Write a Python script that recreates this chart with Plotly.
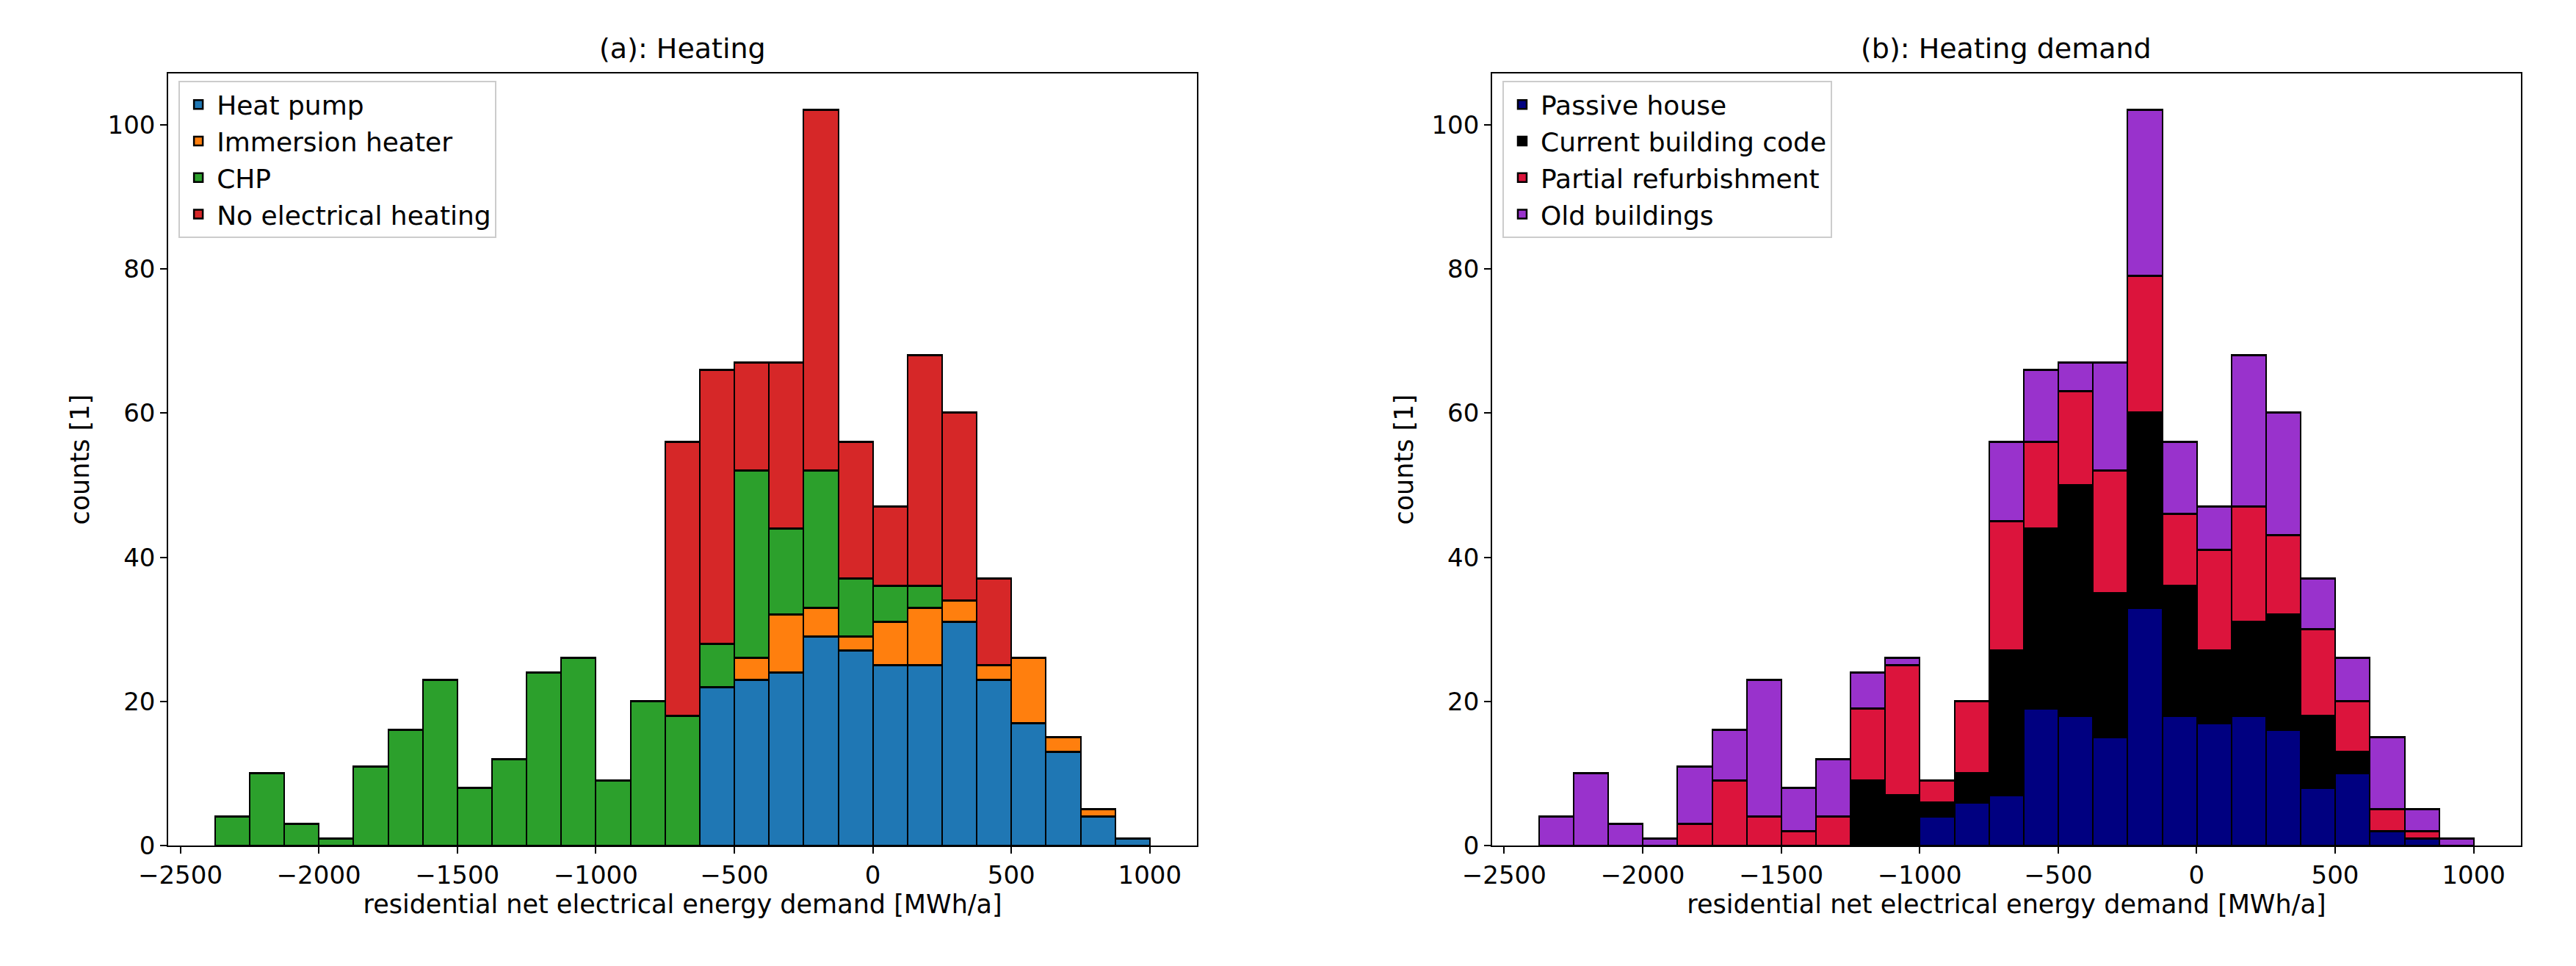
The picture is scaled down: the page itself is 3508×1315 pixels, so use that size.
import plotly.graph_objects as go

bin_start = -2374
bin_width = 125
n_bins = 27

# (a) Heating: counts per bin
heat_pump = [0,0,0,0,0,0,0,0,0,0,0,0,0,0,22,23,24,29,27,25,25,31,23,17,13,4,1]
immersion = [0,0,0,0,0,0,0,0,0,0,0,0,0,0,0,3,8,4,2,6,8,3,2,9,2,1,0]
chp = [4,10,3,1,11,16,23,8,12,24,26,9,20,18,6,26,12,19,8,5,3,0,0,0,0,0,0]
no_elec = [0,0,0,0,0,0,0,0,0,0,0,0,0,38,38,15,23,50,19,11,32,26,12,0,0,0,0]

# (b) Heating demand
passive = [0,0,0,0,0,0,0,0,0,0,0,4,6,7,19,18,15,33,18,17,18,16,8,10,2,1,0]
current = [0,0,0,0,0,0,0,0,0,9,7,2,4,20,25,32,20,27,18,10,13,16,10,3,0,0,0]
partial = [0,0,0,0,3,9,4,2,4,10,18,3,10,18,12,13,17,19,10,14,16,11,12,7,3,1,0]
old = [4,10,3,1,8,7,19,6,8,5,1,0,0,11,10,4,15,23,10,6,21,17,7,6,10,3,1]

xticks = [-2500, -2000, -1500, -1000, -500, 0, 500, 1000]
centers = [bin_start + bin_width * (i + 0.5) for i in range(n_bins)]

def nz(v):
    return [x if x else None for x in v]

fig = go.Figure()
FONT = "DejaVu Sans"

def add(vals, name, color, ax, leg):
    fig.add_trace(go.Bar(x=centers, y=nz(vals), width=bin_width, name=name,
                         marker=dict(color=color, line=dict(color="black", width=2.5)),
                         xaxis="x" + ax, yaxis="y" + ax, legend=leg))

add(heat_pump, "Heat pump", "#1f77b4", "", "legend")
add(immersion, "Immersion heater", "#ff7f0e", "", "legend")
add(chp, "CHP", "#2ca02c", "", "legend")
add(no_elec, "No electrical heating", "#d62728", "", "legend")
add(passive, "Passive house", "#000080", "2", "legend2")
add(current, "Current building code", "#000000", "2", "legend2")
add(partial, "Partial refurbishment", "#dc143c", "2", "legend2")
add(old, "Old buildings", "#9932cc", "2", "legend2")

ax = dict(showline=True, linecolor="black", linewidth=2, mirror=True, ticks="outside",
          tickwidth=2, ticklen=9, tickcolor="black", showgrid=False, zeroline=False,
          tickfont=dict(size=34, color="black"))
xr = [-2543, 1170]
yr = [0, 107.1]
legstyle = dict(bgcolor="white", bordercolor="#cccccc", borderwidth=2,
                font=dict(size=36, color="black"), traceorder="normal",
                xanchor="left", yanchor="top", itemwidth=40)
ytv = [0, 20, 40, 60, 80, 100]
XT = "residential net electrical energy demand [MWh/a]"
fig.update_layout(
    width=3508, height=1315, barmode="stack", bargap=0,
    paper_bgcolor="white", plot_bgcolor="white",
    font=dict(family=FONT, color="black"),
    margin=dict(l=0, r=0, t=0, b=0), showlegend=True,
    xaxis=dict(ax, domain=[0.052, 0.456], range=xr, tickvals=xticks, anchor="y",
               title=dict(text=XT, font=dict(size=35), standoff=8)),
    yaxis=dict(ax, domain=[0.117, 0.929], range=yr, tickvals=ytv, anchor="x",
               title=dict(text="counts [1]", font=dict(size=35), standoff=14)),
    xaxis2=dict(ax, domain=[0.572, 0.976], range=xr, tickvals=xticks, anchor="y2",
                title=dict(text=XT, font=dict(size=35), standoff=8)),
    yaxis2=dict(ax, domain=[0.117, 0.929], range=yr, tickvals=ytv, anchor="x2",
                title=dict(text="counts [1]", font=dict(size=35), standoff=14)),
    legend=dict(legstyle, x=0.056, y=0.921),
    legend2=dict(legstyle, x=0.576, y=0.921),
    annotations=[
        dict(text="(a): Heating", x=0.254, y=0.937, xref="paper", yref="paper",
             xanchor="center", yanchor="bottom", showarrow=False, font=dict(size=38)),
        dict(text="(b): Heating demand", x=0.774, y=0.937, xref="paper", yref="paper",
             xanchor="center", yanchor="bottom", showarrow=False, font=dict(size=38)),
    ],
)
fig.write_html("out.html")
